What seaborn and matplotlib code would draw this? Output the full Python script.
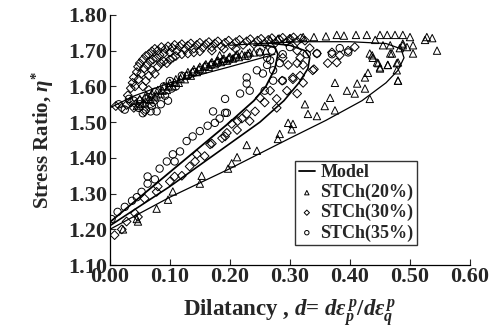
import numpy as np
import pandas as pd
import matplotlib
matplotlib.use('Agg')
import matplotlib.pyplot as plt
import seaborn as sns

# =========================
# MODEL CURVES
# =========================
model_d_35 = [0.00, 0.05, 0.10, 0.15, 0.20, 0.24, 0.26, 0.275, 0.28, 0.275, 0.26, 0.24]
model_eta_35 = [1.22, 1.29, 1.36, 1.43, 1.50, 1.56, 1.60, 1.65, 1.69, 1.71, 1.715, 1.715]

model_d_30 = [0.00, 0.05, 0.10, 0.15, 0.20, 0.25, 0.29, 0.315, 0.33, 0.333, 0.325, 0.30, 0.27]
model_eta_30 = [1.21, 1.265, 1.32, 1.38, 1.44, 1.50, 1.56, 1.61, 1.65, 1.68, 1.70, 1.715, 1.72]

model_d_20 = [0.00, 0.10, 0.20, 0.30, 0.36, 0.42, 0.46, 0.48, 0.49, 0.485, 0.46, 0.40, 0.32, 0.25, 0.20]
model_eta_20 = [1.20, 1.29, 1.37, 1.455, 1.505, 1.56, 1.61, 1.645, 1.68, 1.705, 1.72, 1.725, 1.725, 1.72, 1.715]

# softening branch back to critical state
model_d_soft = [0.275, 0.20, 0.10, 0.04, 0.00]
model_eta_soft = [1.69, 1.655, 1.61, 1.573, 1.54]

# =========================
# STCh(20%) - triangles
# =========================
d_20 = [0.022, 0.045, 0.047, 0.078, 0.097, 0.105, 0.150, 0.153, 0.197, 0.203, 0.212, 0.228, 0.245,
        0.280, 0.283, 0.297, 0.303, 0.305, 0.325, 0.330, 0.345, 0.358, 0.367, 0.375, 0.375, 0.395,
        0.408, 0.412, 0.425, 0.425, 0.430, 0.433, 0.437, 0.445, 0.450, 0.463, 0.470, 0.478, 0.478,
        0.480, 0.488, 0.495, 0.433, 0.438, 0.447, 0.450, 0.463, 0.480, 0.467, 0.483, 0.480,
        0.267, 0.280, 0.300, 0.322, 0.340, 0.360, 0.378, 0.390, 0.410, 0.428, 0.442, 0.450, 0.462,
        0.475, 0.488, 0.500, 0.455, 0.467, 0.488, 0.505, 0.505, 0.525, 0.528, 0.537, 0.545,
        0.045, 0.050, 0.055, 0.060, 0.065, 0.070, 0.075, 0.080, 0.085, 0.090, 0.095, 0.100, 0.105,
        0.110, 0.115, 0.120, 0.125, 0.130, 0.135, 0.140, 0.145, 0.150, 0.155, 0.160, 0.165, 0.170,
        0.175, 0.180, 0.185, 0.190, 0.195, 0.200, 0.205, 0.210, 0.215, 0.220, 0.225, 0.230, 0.240,
        0.250, 0.260, 0.183, 0.212, 0.233,
        0.058, 0.068, 0.078, 0.088, 0.098, 0.108, 0.118, 0.128, 0.138, 0.148, 0.158, 0.168, 0.178,
        0.188, 0.198]
eta_20 = [1.200, 1.229, 1.222, 1.258, 1.283, 1.306, 1.328, 1.350, 1.370, 1.385, 1.402, 1.436, 1.420,
          1.453, 1.467, 1.498, 1.480, 1.495, 1.550, 1.523, 1.517, 1.545, 1.568, 1.533, 1.610, 1.588,
          1.580, 1.608, 1.594, 1.625, 1.638, 1.565, 1.687, 1.667, 1.653, 1.660, 1.692, 1.665, 1.645,
          1.616, 1.720, 1.710, 1.692, 1.680, 1.665, 1.650, 1.660, 1.667, 1.692, 1.707, 1.616,
          1.730, 1.733, 1.735, 1.738, 1.738, 1.740, 1.744, 1.742, 1.744, 1.744, 1.730, 1.744, 1.744,
          1.744, 1.744, 1.738, 1.715, 1.715, 1.715, 1.715, 1.692, 1.730, 1.738, 1.735, 1.700,
          1.545, 1.565, 1.555, 1.575, 1.565, 1.580, 1.570, 1.590, 1.580, 1.600, 1.590, 1.610, 1.600,
          1.620, 1.610, 1.630, 1.620, 1.640, 1.630, 1.648, 1.640, 1.655, 1.648, 1.662, 1.655, 1.668,
          1.662, 1.673, 1.668, 1.678, 1.672, 1.683, 1.678, 1.687, 1.682, 1.690, 1.686, 1.692, 1.695,
          1.698, 1.700, 1.687, 1.690, 1.695,
          1.552, 1.562, 1.575, 1.588, 1.600, 1.612, 1.622, 1.632, 1.642, 1.650, 1.658, 1.664, 1.670,
          1.676, 1.680]

# =========================
# STCh(30%) - diamonds
# =========================
d_30 = [0.008, 0.020, 0.028, 0.042, 0.047, 0.058, 0.078, 0.080, 0.100, 0.108, 0.120, 0.133, 0.142,
        0.145, 0.158, 0.167, 0.170, 0.187, 0.195, 0.192, 0.203, 0.212, 0.213, 0.220, 0.228, 0.233,
        0.242, 0.250, 0.258, 0.267, 0.278, 0.278, 0.287, 0.295, 0.305, 0.297, 0.312, 0.312, 0.288,
        0.312, 0.322, 0.305, 0.317, 0.322, 0.317, 0.338, 0.340, 0.363, 0.378, 0.383, 0.370, 0.397,
        0.408, 0.345, 0.333,
        0.030, 0.035, 0.038, 0.040, 0.042, 0.045, 0.047, 0.048, 0.050, 0.052, 0.055, 0.057, 0.060,
        0.062, 0.065, 0.067, 0.070, 0.072, 0.075, 0.078, 0.080, 0.083, 0.086, 0.090, 0.093, 0.097,
        0.100, 0.104, 0.108, 0.112, 0.116, 0.120, 0.125, 0.130, 0.135, 0.140, 0.145, 0.150, 0.155,
        0.160, 0.165, 0.170, 0.175, 0.180, 0.186, 0.192, 0.198, 0.204, 0.210, 0.216, 0.222, 0.228,
        0.234, 0.240, 0.246, 0.252, 0.258, 0.264, 0.270, 0.276, 0.282, 0.288, 0.294, 0.300, 0.306,
        0.312, 0.318, 0.325,
        0.055, 0.060, 0.065, 0.070, 0.075, 0.080, 0.085, 0.090, 0.095, 0.100, 0.105, 0.110, 0.120,
        0.130, 0.140, 0.150, 0.170, 0.190, 0.210,
        0.010, 0.020, 0.028, 0.035, 0.043, 0.050, 0.058, 0.065, 0.072, 0.040, 0.060]
eta_30 = [1.184, 1.200, 1.222, 1.245, 1.235, 1.286, 1.305, 1.320, 1.334, 1.348, 1.350, 1.376, 1.390,
          1.410, 1.405, 1.438, 1.440, 1.455, 1.470, 1.460, 1.495, 1.478, 1.503, 1.510, 1.523, 1.503,
          1.530, 1.568, 1.555, 1.588, 1.565, 1.540, 1.616, 1.588, 1.625, 1.660, 1.665, 1.580, 1.680,
          1.700, 1.610, 1.620, 1.630, 1.660, 1.680, 1.645, 1.648, 1.665, 1.667, 1.687, 1.695, 1.700,
          1.710, 1.692, 1.707,
          1.575, 1.595, 1.610, 1.625, 1.600, 1.640, 1.655, 1.620, 1.665, 1.635, 1.675, 1.650, 1.685,
          1.660, 1.690, 1.670, 1.698, 1.675, 1.705, 1.680, 1.700, 1.688, 1.710, 1.692, 1.705, 1.712,
          1.695, 1.708, 1.716, 1.700, 1.712, 1.718, 1.703, 1.714, 1.720, 1.706, 1.716, 1.722, 1.708,
          1.718, 1.724, 1.710, 1.720, 1.726, 1.712, 1.722, 1.728, 1.714, 1.724, 1.730, 1.716, 1.726,
          1.732, 1.718, 1.728, 1.733, 1.720, 1.730, 1.735, 1.722, 1.732, 1.736, 1.724, 1.733, 1.737,
          1.726, 1.734, 1.728,
          1.600, 1.615, 1.630, 1.645, 1.635, 1.655, 1.665, 1.670, 1.665, 1.675, 1.680, 1.685, 1.690,
          1.692, 1.695, 1.698, 1.700, 1.705, 1.705,
          1.545, 1.540, 1.548, 1.555, 1.550, 1.560, 1.530, 1.590, 1.555, 1.540, 1.565]

# =========================
# STCh(35%) - circles
# =========================
d_35 = [0.003, 0.013, 0.025, 0.037, 0.045, 0.053, 0.063, 0.063, 0.075, 0.083, 0.095, 0.108, 0.105,
        0.117, 0.128, 0.138, 0.150, 0.163, 0.175, 0.183, 0.192, 0.172, 0.195, 0.192, 0.217, 0.228,
        0.233, 0.245, 0.255, 0.258, 0.262, 0.267, 0.272, 0.272, 0.228, 0.262, 0.270, 0.283, 0.288,
        0.300, 0.288, 0.328, 0.345, 0.370, 0.383, 0.397,
        0.078, 0.092, 0.097, 0.103, 0.120, 0.060, 0.070, 0.085, 0.110, 0.140, 0.160, 0.180, 0.200,
        0.050, 0.040, 0.065, 0.075, 0.090, 0.100, 0.130, 0.150, 0.170, 0.190, 0.210, 0.230, 0.250,
        0.015, 0.025, 0.032, 0.048, 0.055, 0.068]
eta_35 = [1.229, 1.249, 1.263, 1.280, 1.290, 1.305, 1.328, 1.348, 1.340, 1.370, 1.390, 1.390, 1.410,
          1.418, 1.447, 1.460, 1.475, 1.490, 1.498, 1.510, 1.526, 1.530, 1.526, 1.565, 1.580, 1.625,
          1.588, 1.645, 1.636, 1.588, 1.660, 1.673, 1.645, 1.616, 1.608, 1.680, 1.700, 1.665, 1.690,
          1.710, 1.616, 1.690, 1.692, 1.690, 1.707, 1.695,
          1.530, 1.574, 1.560, 1.594, 1.630, 1.535, 1.545, 1.550, 1.600, 1.640, 1.655, 1.665, 1.675,
          1.550, 1.560, 1.570, 1.585, 1.600, 1.615, 1.630, 1.645, 1.660, 1.670, 1.680, 1.685, 1.695,
          1.550, 1.535, 1.565, 1.540, 1.525, 1.530]

# =========================
# STYLE
# =========================
sns.set_style('ticks')
plt.rcParams['font.family'] = ['Liberation Serif', 'DejaVu Serif']
plt.rcParams['font.weight'] = 'bold'
plt.rcParams['mathtext.fontset'] = 'custom'
plt.rcParams['mathtext.rm'] = 'Liberation Serif:bold'
plt.rcParams['mathtext.it'] = 'Liberation Serif:italic:bold'
plt.rcParams['mathtext.bf'] = 'Liberation Serif:bold'

fig = plt.figure(figsize=(4.99, 3.31), dpi=100)
ax = fig.add_axes([0.22, 0.199, 0.722, 0.756])

mk = dict(facecolor='none', edgecolor='black', linewidth=0.7, s=28)
sns.scatterplot(x=d_20, y=eta_20, marker='^', ax=ax, label='STCh(20%)', **mk)
sns.scatterplot(x=d_30, y=eta_30, marker='D', ax=ax, label='STCh(30%)',
                facecolor='none', edgecolor='black', linewidth=0.7, s=20)
sns.scatterplot(x=d_35, y=eta_35, marker='o', ax=ax, label='STCh(35%)', **mk)

line_kw = dict(sort=False, estimator=None, errorbar=None, color='black', ax=ax)
sns.lineplot(x=model_d_35, y=model_eta_35, lw=1.3, label='Model', **line_kw)
sns.lineplot(x=model_d_30, y=model_eta_30, lw=1.2, **line_kw)
sns.lineplot(x=model_d_20, y=model_eta_20, lw=0.9, **line_kw)
sns.lineplot(x=model_d_soft, y=model_eta_soft, lw=0.9, **line_kw)

ax.set_xlim(0, 0.6)
ax.set_ylim(1.1, 1.8)
ax.set_xticks(np.arange(0, 0.61, 0.1))
ax.set_yticks(np.arange(1.1, 1.81, 0.1))
ax.xaxis.set_major_formatter(matplotlib.ticker.FormatStrFormatter('%.2f'))
ax.yaxis.set_major_formatter(matplotlib.ticker.FormatStrFormatter('%.2f'))
ax.tick_params(direction='in', length=4, width=0.8, labelsize=16, pad=2)
ax.tick_params(axis='x', pad=1)
for lab in ax.get_xticklabels() + ax.get_yticklabels():
    lab.set_fontweight('bold')
sns.despine(ax=ax)
for sp in ['left', 'bottom']:
    ax.spines[sp].set_color('black')
    ax.spines[sp].set_linewidth(0.9)

ax.set_xlabel(r'Dilatancy , $d$= $d\varepsilon_p^{\,p}/d\varepsilon_q^{\,p}$',
              fontsize=16.5, fontweight='bold', labelpad=8)
ax.set_ylabel(r'Stress Ratio, $\eta^{*}$', fontsize=15, fontweight='bold', labelpad=9)

handles, labels = ax.get_legend_handles_labels()
order = [labels.index(n) for n in ['Model', 'STCh(20%)', 'STCh(30%)', 'STCh(35%)']]
leg = ax.legend([handles[i] for i in order], [labels[i] for i in order],
                loc='lower right', bbox_to_anchor=(0.853, 0.08), frameon=True, fancybox=False,
                edgecolor='black', fontsize=13, handlelength=0.9, handletextpad=0.3,
                borderpad=0.2, labelspacing=0.15, markerscale=0.6, borderaxespad=0)
leg.get_frame().set_linewidth(1.0)
for t in leg.get_texts():
    t.set_fontweight('bold')

fig.savefig('out.png', dpi=100)
